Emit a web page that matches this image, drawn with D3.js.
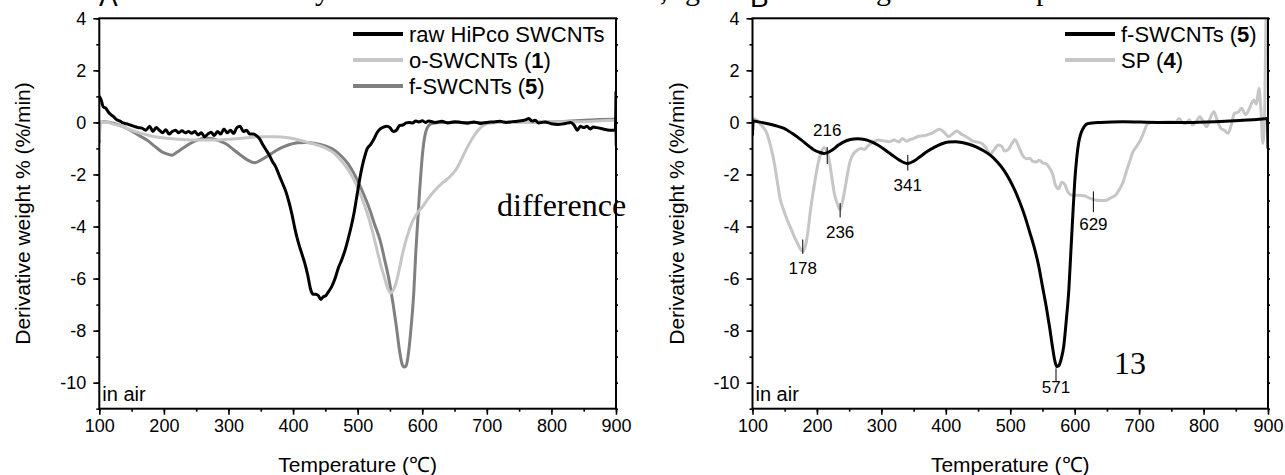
<!DOCTYPE html>
<html>
<head>
<meta charset="utf-8">
<script src="https://cdn.jsdelivr.net/npm/d3@7"></script>
<style>
  body { margin: 0; background: #fff; }
  svg { display: block; font-family: "Liberation Sans", Arial, sans-serif; }
</style>
</head>
<body>
<svg id="chart" width="1285" height="475"></svg>
<script>
// ---- data ----
// x = temperature (C), y = derivative weight % (%/min)

// panel A
const rawHiPco = [
  [100,1.0],[103,0.85],[106,0.6],[110,0.55],[114,0.4],[118,0.3],[122,0.22],[127,0.1],[132,0.05],[137,-0.02],
  [142,-0.05],[148,-0.1],[154,-0.15],[160,-0.2],[166,-0.22],[172,-0.3],[178,-0.15],[183,-0.35],[188,-0.2],[193,-0.3],
  [198,-0.4],[203,-0.28],[208,-0.45],[213,-0.35],[218,-0.3],[223,-0.4],[228,-0.32],[233,-0.4],[238,-0.35],[243,-0.42],
  [248,-0.35],[253,-0.48],[258,-0.4],[263,-0.55],[268,-0.45],[273,-0.38],[278,-0.5],[283,-0.35],[288,-0.45],[293,-0.25],
  [298,-0.4],[303,-0.3],[308,-0.42],[313,-0.2],[318,-0.15],[323,-0.35],[328,-0.3],[333,-0.45],[338,-0.45],[343,-0.5],
  [348,-0.62],[353,-0.85],[358,-1.05],[363,-1.25],[368,-1.5],[373,-1.7],[378,-2.0],[383,-2.3],[388,-2.6],[393,-3.0],
  [398,-3.5],[403,-4.1],[408,-4.6],[413,-5.0],[418,-5.4],[423,-5.9],[427,-6.4],[431,-6.6],[435,-6.6],[439,-6.65],
  [443,-6.8],[447,-6.7],[451,-6.65],[455,-6.5],[460,-6.3],[465,-6.0],[470,-5.6],[475,-5.3],[480,-4.95],[485,-4.5],
  [490,-4.0],[495,-3.4],[499,-2.8],[503,-2.2],[507,-1.7],[511,-1.3],[515,-1.0],[520,-0.85],[525,-0.65],[530,-0.4],
  [535,-0.25],[540,-0.18],[545,-0.15],[550,-0.2],[555,-0.35],[560,-0.3],[565,-0.12],[570,-0.1],[575,-0.02],[580,0.0],
  [585,-0.02],[590,0.05],[595,0.02],[600,0.06],[605,0.0],[610,0.05],[620,0.0],[630,0.04],[640,-0.02],[650,0.03],
  [660,0.0],[670,-0.03],[680,0.02],[690,-0.04],[700,0.0],[710,0.02],[720,0.04],[730,0.0],[740,0.03],[750,0.05],
  [760,0.1],[765,0.15],[770,0.05],[775,0.08],[780,-0.02],[790,0.02],[800,-0.05],[810,-0.08],[820,-0.05],[830,0.0],
  [835,-0.1],[840,-0.3],[845,-0.15],[850,-0.2],[855,-0.15],[860,-0.25],[865,-0.18],[870,-0.2],[880,-0.25],[890,-0.3],
  [899,-0.3],[900,1.2]
];
const oSWCNTs = [
  [100,-0.7],[102,0.0],[110,0.02],[120,-0.05],[135,-0.15],[150,-0.3],[165,-0.42],[180,-0.52],[200,-0.6],[225,-0.65],
  [250,-0.68],[275,-0.68],[300,-0.65],[325,-0.6],[350,-0.55],[375,-0.55],[390,-0.58],[405,-0.65],[420,-0.75],[435,-0.85],
  [450,-0.98],[462,-1.15],[472,-1.4],[482,-1.7],[492,-2.1],[500,-2.5],[508,-3.0],[515,-3.5],[522,-4.1],[529,-4.8],
  [536,-5.5],[542,-6.0],[547,-6.4],[551,-6.55],[555,-6.45],[559,-6.2],[564,-5.7],[569,-5.1],[574,-4.6],[579,-4.2],
  [585,-3.8],[592,-3.5],[600,-3.25],[610,-2.9],[620,-2.6],[630,-2.35],[640,-2.15],[648,-1.95],[655,-1.7],[662,-1.35],
  [670,-0.95],[678,-0.6],[686,-0.32],[694,-0.12],[702,-0.04],[720,0.0],[750,0.0],[800,0.02],[850,0.03],[895,0.08],[900,0.05]
];
const fSWCNTsA = [
  [100,-0.8],[101,0.0],[108,0.03],[120,-0.02],[130,-0.1],[140,-0.2],[152,-0.36],[165,-0.55],[175,-0.7],[185,-0.9],
  [197,-1.13],[206,-1.22],[213,-1.26],[220,-1.15],[230,-0.98],[240,-0.82],[252,-0.68],[263,-0.6],[274,-0.62],[285,-0.7],
  [296,-0.82],[308,-1.05],[319,-1.26],[330,-1.45],[341,-1.55],[352,-1.42],[363,-1.25],[374,-1.08],[385,-0.94],[396,-0.84],
  [407,-0.78],[420,-0.77],[435,-0.81],[450,-0.9],[463,-1.05],[475,-1.3],[485,-1.58],[494,-1.95],[502,-2.35],[510,-2.8],
  [518,-3.3],[526,-3.9],[535,-4.55],[542,-5.3],[549,-6.1],[555,-7.0],[560,-7.85],[565,-8.8],[569,-9.3],[572,-9.4],
  [575,-9.35],[579,-8.8],[583,-7.8],[587,-6.5],[590,-5.0],[593,-3.8],[596,-2.6],[599,-1.6],[602,-0.85],[605,-0.4],
  [610,-0.12],[615,-0.04],[630,0.0],[700,0.0],[800,0.02],[895,0.12],[899,0.12],[900,-0.9]
];

// panel B
const fSWCNTsB = [
  [100,-0.5],[101,0.05],[110,0.02],[122,-0.04],[135,-0.12],[149,-0.23],[162,-0.43],[176,-0.68],[186,-0.88],[195,-1.05],
  [203,-1.14],[211,-1.19],[218,-1.14],[225,-1.04],[233,-0.88],[241,-0.76],[252,-0.66],[263,-0.63],[274,-0.66],[284,-0.74],
  [295,-0.88],[306,-1.06],[317,-1.26],[328,-1.45],[341,-1.58],[351,-1.48],[360,-1.32],[371,-1.12],[382,-0.96],[393,-0.83],
  [404,-0.75],[415,-0.74],[425,-0.77],[436,-0.84],[447,-0.94],[458,-1.08],[469,-1.26],[480,-1.52],[490,-1.83],[499,-2.2],
  [507,-2.6],[515,-3.08],[523,-3.63],[530,-4.2],[537,-4.78],[544,-5.5],[550,-6.3],[556,-7.1],[561,-7.86],[566,-8.7],
  [569,-9.14],[572,-9.38],[575,-9.35],[579,-9.1],[583,-8.6],[587,-7.6],[591,-6.4],[594,-5.0],[597,-3.6],[600,-2.3],
  [603,-1.4],[606,-0.8],[610,-0.4],[615,-0.15],[621,-0.04],[640,0.0],[675,0.03],[730,0.0],[783,0.0],[840,0.05],
  [886,0.12],[899,0.15],[900,-1.0]
];
const spB = [
  [100,-0.3],[101,0.15],[106,0.1],[111,-0.04],[117,-0.2],[122,-0.4],[128,-0.9],[133,-1.45],[138,-2.2],[143,-2.95],
  [148,-3.35],[154,-3.76],[160,-4.1],[165,-4.4],[170,-4.65],[174,-4.85],[178,-4.95],[182,-4.75],[186,-4.2],[190,-3.37],
  [194,-2.7],[198,-2.09],[202,-1.55],[206,-1.19],[211,-0.96],[215,-1.1],[219,-1.45],[223,-2.1],[227,-2.73],[232,-3.15],
  [236,-3.35],[240,-3.0],[244,-2.47],[248,-1.9],[252,-1.45],[257,-1.2],[263,-1.06],[268,-1.0],[274,-1.04],[279,-0.9],
  [284,-0.81],[290,-0.72],[295,-0.68],[302,-0.7],[312,-0.74],[320,-0.68],[327,-0.75],[333,-0.62],[339,-0.72],[345,-0.65],
  [350,-0.62],[356,-0.55],[362,-0.52],[368,-0.5],[374,-0.45],[380,-0.4],[386,-0.3],[390,-0.26],[395,-0.32],[400,-0.45],
  [404,-0.55],[410,-0.45],[417,-0.33],[424,-0.45],[430,-0.52],[436,-0.62],[442,-0.72],[448,-0.75],[453,-0.78],[458,-0.85],
  [463,-1.0],[469,-1.22],[475,-1.05],[482,-0.87],[487,-0.92],[491,-1.1],[496,-1.06],[503,-0.8],[507,-0.66],[510,-0.75],
  [515,-1.05],[520,-1.3],[525,-1.4],[530,-1.38],[535,-1.5],[540,-1.52],[545,-1.45],[550,-1.55],[556,-1.6],[561,-1.75],
  [566,-2.0],[570,-2.4],[575,-2.55],[580,-2.3],[585,-2.4],[590,-2.7],[596,-2.8],[605,-2.8],[615,-2.82],[622,-2.9],
  [632,-2.98],[640,-3.0],[648,-3.0],[656,-2.9],[664,-2.78],[670,-2.55],[675,-2.3],[680,-1.9],[686,-1.45],[690,-1.15],
  [694,-1.0],[698,-0.85],[702,-0.68],[707,-0.4],[713,-0.05],[720,0.0],[729,0.0],[740,0.02],[751,0.03],[756,0.0],
  [762,0.15],[767,0.0],[772,-0.05],[778,0.1],[783,-0.1],[789,0.05],[794,0.22],[800,0.0],[805,-0.17],[810,0.15],
  [816,0.41],[821,0.1],[827,-0.23],[832,-0.3],[838,-0.42],[843,-0.1],[848,0.35],[854,0.4],[859,0.54],[865,0.3],
  [870,0.47],[874,0.7],[878,0.86],[882,0.7],[886,1.31],[889,0.5],[892,-0.81],[895,0.5],[897,4.3]
];

// peak markers in panel B: temperature, tick from/to (y units), label centre (y units)
const peakTemps = [178, 216, 236, 341, 571, 629];
const peakTickTop = [-4.5, -0.95, -3.1, -1.25, -9.45, -2.65];
const peakTickBot = [-5.05, -1.6, -3.65, -1.85, -9.95, -3.45];
const peakLabelY = [-5.6, -0.3, -4.2, -2.4, -10.15, -3.9];

// legends: [plain text, bold part, closing text]
const legendA = [["raw HiPco SWCNTs", "", ""], ["o-SWCNTs (", "1", ")"], ["f-SWCNTs (", "5", ")"]];
const legendB = [["f-SWCNTs (", "5", ")"], ["SP (", "4", ")"]];
const colorsA = ["#000000", "#c6c6c6", "#808080"];
const colorsB = ["#000000", "#c6c6c6"];

const xTickVals = d3.range(100, 901, 100);
const xMinorVals = d3.range(100, 901, 50);
const yTickVals = d3.range(-10, 5, 2);
const yMinorVals = d3.range(-11, 5, 1);

// ---- drawing ----
const svg = d3.select("#chart");
const plotTop = 18.3, plotBottom = 408.7;
const y = d3.scaleLinear().domain([-11, 4]).range([plotBottom, plotTop]);

function drawPanel(id, left, right, series, colors, legend, legendX) {
  const x = d3.scaleLinear().domain([100, 900]).range([left, right]);
  const g = svg.append("g");

  g.append("clipPath").attr("id", "clip" + id)
    .append("rect").attr("x", left).attr("y", plotTop)
    .attr("width", right - left).attr("height", plotBottom - plotTop);

  const line = d3.line().x(d => x(d[0])).y(d => y(d[1])).curve(d3.curveMonotoneX);
  // draw lightest first so the dark lines sit on top
  const order = series.map((s, i) => i).reverse();
  order.forEach(i => {
    g.append("path").datum(series[i])
      .attr("clip-path", `url(#clip${id})`)
      .attr("d", line)
      .attr("fill", "none")
      .attr("stroke", colors[i])
      .attr("stroke-width", 3)
      .attr("stroke-linejoin", "round");
  });

  // axes
  const xAxis = g.append("g").attr("transform", `translate(0,${plotBottom})`)
    .call(d3.axisBottom(x).tickValues(xTickVals).tickSize(6).tickPadding(5).tickFormat(d => d));
  const xMinor = g.append("g").attr("transform", `translate(0,${plotBottom})`)
    .call(d3.axisBottom(x).tickValues(xMinorVals).tickSize(3).tickFormat(""));
  const yAxis = g.append("g").attr("transform", `translate(${left},0)`)
    .call(d3.axisLeft(y).tickValues(yTickVals).tickSize(6).tickPadding(7).tickFormat(d => String(d)));
  const yMinor = g.append("g").attr("transform", `translate(${left},0)`)
    .call(d3.axisLeft(y).tickValues(yMinorVals).tickSize(3).tickFormat(""));
  const yRight = g.append("g").attr("transform", `translate(${right},0)`)
    .call(d3.axisRight(y).tickValues(yMinorVals).tickSize(2).tickFormat(""));

  [xAxis, xMinor, yAxis, yMinor, yRight].forEach(a => {
    a.select(".domain").remove();
    a.selectAll(".tick line").attr("stroke", "#000").attr("stroke-width", 1.6);
    a.selectAll("text").attr("font-size", 18).attr("fill", "#000")
      .attr("font-family", "'Liberation Sans', Arial, sans-serif");
  });

  g.append("rect").attr("x", left).attr("y", plotTop)
    .attr("width", right - left).attr("height", plotBottom - plotTop)
    .attr("fill", "none").attr("stroke", "#000").attr("stroke-width", 2);

  // axis titles
  g.append("text").attr("x", (left + right) / 2).attr("y", 472)
    .attr("text-anchor", "middle").attr("font-size", 21).text("Temperature (\u2103)");
  g.append("text")
    .attr("transform", `translate(${left - 69},${(plotTop + plotBottom) / 2}) rotate(-90)`)
    .attr("text-anchor", "middle").attr("font-size", 21).text("Derivative weight % (%/min)");

  g.append("text").attr("x", left + 3).attr("y", 401).attr("font-size", 20).text("in air");

  // legend
  legend.forEach((lab, i) => {
    const ly = 34 + i * 26;
    g.append("line").attr("x1", legendX).attr("x2", legendX + 50).attr("y1", ly).attr("y2", ly)
      .attr("stroke", colors[i]).attr("stroke-width", 4);
    const t = g.append("text").attr("x", legendX + 56).attr("y", ly + 8).attr("font-size", 22);
    t.append("tspan").text(lab[0]);
    if (lab[1]) t.append("tspan").attr("font-weight", "bold").text(lab[1]);
    if (lab[2]) t.append("tspan").text(lab[2]);
  });

  return { g, x };
}

const A = drawPanel("A", 99.3, 616, [rawHiPco, oSWCNTs, fSWCNTsA], colorsA, legendA, 353);
const B = drawPanel("B", 752.5, 1268, [fSWCNTsB, spB], colorsB, legendB, 1065);

// peak markers in B
peakTemps.forEach((t, i) => {
  B.g.append("line")
    .attr("x1", B.x(t)).attr("x2", B.x(t))
    .attr("y1", y(peakTickTop[i])).attr("y2", y(peakTickBot[i]))
    .attr("stroke", "#000").attr("stroke-width", 1);
  B.g.append("text").attr("x", B.x(t)).attr("y", y(peakLabelY[i]) + 6)
    .attr("text-anchor", "middle").attr("font-size", 17).text(t);
});

// stray serif text inside the plots
A.g.append("text").attr("x", 497).attr("y", 216)
  .attr("font-family", "'Liberation Serif', 'Times New Roman', serif").attr("font-size", 32).text("difference");
B.g.append("text").attr("x", 1114).attr("y", 374)
  .attr("font-family", "'Liberation Serif', 'Times New Roman', serif").attr("font-size", 32).text("13");

// panel letters and the cut-off caption line above the figure
svg.append("text").attr("x", 99).attr("y", 6).attr("font-size", 28).text("A");
svg.append("text").attr("x", 750).attr("y", 7).attr("font-size", 28).text("B");
const capFont = "'Liberation Serif', 'Times New Roman', serif";
[["y", 315], [",", 660], ["g", 685], ["g", 876], ["p", 1036]].forEach(c => {
  svg.append("text").attr("x", c[1]).attr("y", 0).attr("font-family", capFont)
    .attr("font-size", 30).text(c[0]);
});
</script>
</body>
</html>
